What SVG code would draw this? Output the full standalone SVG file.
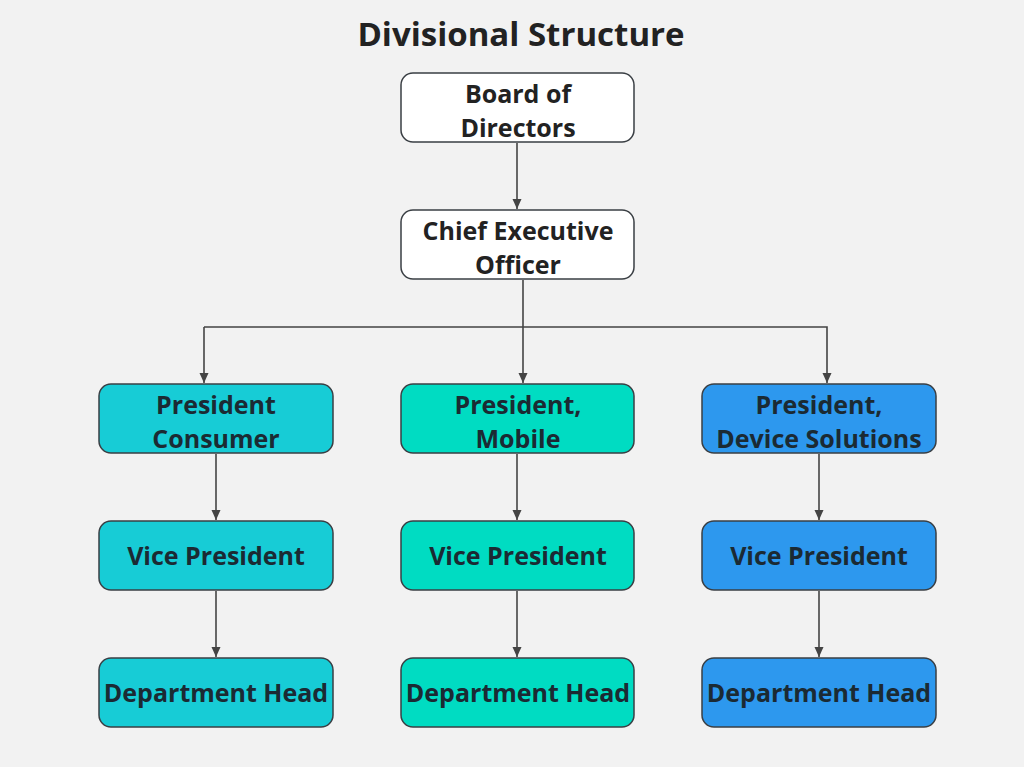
<svg xmlns="http://www.w3.org/2000/svg" width="1024" height="767" viewBox="0 0 1024 767">
<style>
.bg{fill:#f2f2f2}
.box{stroke:#3a3f44;stroke-width:1.5}
.w{fill:#ffffff}
.c1{fill:#17ccd6}
.c2{fill:#00dcc2}
.c3{fill:#2d98ee}
text{font-family:"Open Sans","Liberation Sans",sans-serif;font-weight:bold;text-anchor:middle}
.t{font-size:25px;fill:#1b2a33}
.tw{font-size:25px;fill:#222222}
.title{font-size:33px;fill:#222222}
.conn{fill:none;stroke:#444444;stroke-width:1.6}
</style>
<defs>
<marker id="arr" viewBox="0 0 10 10" refX="10" refY="5" markerWidth="10" markerHeight="10" markerUnits="userSpaceOnUse" orient="auto">
<path d="M0,0.5 L10,5 L0,9.5 z" fill="#444444"/>
</marker>
</defs>
<rect class="bg" x="0" y="0" width="1024" height="767"/>
<text class="title" x="521" y="46">Divisional Structure</text>
<g id="connectors">
<path class="conn" d="M517,143 V209" marker-end="url(#arr)"/>
<path class="conn" d="M523,280 V383" marker-end="url(#arr)"/>
<path class="conn" d="M204,327 H827 V383" marker-end="url(#arr)"/>
<path class="conn" d="M204,327 V383" marker-end="url(#arr)"/>
<path class="conn" d="M216,454 V520" marker-end="url(#arr)"/>
<path class="conn" d="M517,454 V520" marker-end="url(#arr)"/>
<path class="conn" d="M819,454 V520" marker-end="url(#arr)"/>
<path class="conn" d="M216,591 V657" marker-end="url(#arr)"/>
<path class="conn" d="M517,591 V657" marker-end="url(#arr)"/>
<path class="conn" d="M819,591 V657" marker-end="url(#arr)"/>
</g>
<g id="board">
<rect class="box w" x="401" y="73" width="233" height="69" rx="12"/>
<text class="tw" x="518" y="103">Board of</text>
<text class="tw" x="518" y="137">Directors</text>
</g>
<g id="ceo">
<rect class="box w" x="401" y="210" width="233" height="69" rx="12"/>
<text class="tw" x="518" y="240">Chief Executive</text>
<text class="tw" x="518" y="274">Officer</text>
</g>
<g id="pres-consumer">
<rect class="box c1" x="99" y="384" width="234" height="69" rx="12"/>
<text class="t" x="216" y="414">President</text>
<text class="t" x="216" y="448">Consumer</text>
</g>
<g id="pres-mobile">
<rect class="box c2" x="401" y="384" width="233" height="69" rx="12"/>
<text class="t" x="518" y="414">President,</text>
<text class="t" x="518" y="448">Mobile</text>
</g>
<g id="pres-device">
<rect class="box c3" x="702" y="384" width="234" height="69" rx="12"/>
<text class="t" x="819" y="414">President,</text>
<text class="t" x="819" y="448">Device Solutions</text>
</g>
<g id="vp-consumer">
<rect class="box c1" x="99" y="521" width="234" height="69" rx="12"/>
<text class="t" x="216" y="565">Vice President</text>
</g>
<g id="vp-mobile">
<rect class="box c2" x="401" y="521" width="233" height="69" rx="12"/>
<text class="t" x="518" y="565">Vice President</text>
</g>
<g id="vp-device">
<rect class="box c3" x="702" y="521" width="234" height="69" rx="12"/>
<text class="t" x="819" y="565">Vice President</text>
</g>
<g id="dh-consumer">
<rect class="box c1" x="99" y="658" width="234" height="69" rx="12"/>
<text class="t" x="216" y="702">Department Head</text>
</g>
<g id="dh-mobile">
<rect class="box c2" x="401" y="658" width="233" height="69" rx="12"/>
<text class="t" x="518" y="702">Department Head</text>
</g>
<g id="dh-device">
<rect class="box c3" x="702" y="658" width="234" height="69" rx="12"/>
<text class="t" x="819" y="702">Department Head</text>
</g>
</svg>
